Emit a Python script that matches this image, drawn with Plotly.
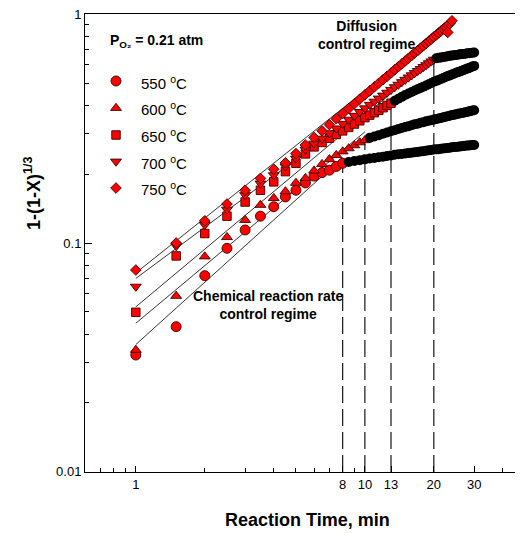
import math
import plotly.graph_objects as go

# ---------------- data ----------------
times = [1.0, 1.5, 2.0, 2.5, 3.0, 3.5, 4.0, 4.5, 5.0, 5.5, 6.0, 6.5, 7.0, 7.5, 8.0, 8.5,
         9.0, 9.5, 10.0, 10.5, 11.0, 11.5, 12.0, 12.5, 13.0, 13.5, 14.0, 14.5, 15.0, 15.5,
         16.0, 16.5, 17.0, 17.5, 18.0, 18.5, 19.0, 19.5, 20.0, 20.5, 21.0, 21.5, 22.0, 22.5,
         23.0, 23.5, 24.0, 24.5, 25.0, 25.5, 26.0, 26.5, 27.0, 27.5, 28.0, 28.5, 29.0, 29.5, 30.0]

temps = ["550", "600", "650", "700", "750"]
symbols = ["circle", "triangle-up", "square", "triangle-down", "diamond"]
transition_t = [8.0, 10.0, 13.0, 20.0, None]

v550 = [0.0324, 0.0431, 0.072, 0.0948, 0.114, 0.131, 0.144, 0.159, 0.170, 0.183, 0.196, 0.203,
        0.208, 0.216, 0.223, 0.226, 0.228, 0.230, 0.232, 0.234, 0.235, 0.237, 0.238, 0.240,
        0.241, 0.243, 0.244, 0.245, 0.246, 0.247, 0.248, 0.249, 0.250, 0.251, 0.252, 0.253,
        0.254, 0.255, 0.256, 0.2565, 0.257, 0.258, 0.259, 0.2595, 0.260, 0.261, 0.262, 0.2625,
        0.263, 0.2635, 0.264, 0.265, 0.2655, 0.266, 0.2665, 0.267, 0.2675, 0.268, 0.268]
v600 = [0.0341, 0.0587, 0.0873, 0.106, 0.126, 0.1466, 0.157, 0.168, 0.183, 0.192, 0.207, 0.221,
        0.232, 0.242, 0.251, 0.259, 0.267, 0.275, 0.281, 0.288, 0.292, 0.296, 0.300, 0.304,
        0.308, 0.311, 0.315, 0.318, 0.321, 0.324, 0.327, 0.330, 0.332, 0.335, 0.337, 0.340,
        0.342, 0.344, 0.346, 0.348, 0.350, 0.352, 0.354, 0.356, 0.358, 0.360, 0.362, 0.363,
        0.365, 0.367, 0.368, 0.370, 0.371, 0.373, 0.374, 0.376, 0.377, 0.379, 0.380]
v650 = [0.0498, 0.0878, 0.110, 0.131, 0.151, 0.170, 0.185, 0.205, 0.223, 0.245, 0.263, 0.275,
        0.287, 0.298, 0.309, 0.320, 0.331, 0.342, 0.353, 0.362, 0.371, 0.380, 0.390, 0.399,
        0.408, 0.418, 0.427, 0.435, 0.443, 0.450, 0.457, 0.464, 0.470, 0.476, 0.482, 0.488,
        0.494, 0.500, 0.506, 0.511, 0.516, 0.521, 0.526, 0.531, 0.536, 0.540, 0.545, 0.549,
        0.554, 0.558, 0.562, 0.566, 0.570, 0.574, 0.578, 0.582, 0.586, 0.590, 0.594]
v700 = [0.0645, 0.097, 0.120, 0.140, 0.162, 0.182, 0.198, 0.216, 0.234, 0.256, 0.272, 0.286,
        0.302, 0.317, 0.332, 0.346, 0.360, 0.374, 0.388, 0.402, 0.415, 0.428, 0.441, 0.454,
        0.467, 0.480, 0.492, 0.505, 0.517, 0.529, 0.541, 0.553, 0.565, 0.576, 0.588, 0.599,
        0.611, 0.622, 0.633, 0.641, 0.644, 0.647, 0.650, 0.652, 0.655, 0.657, 0.659, 0.661,
        0.663, 0.665, 0.667, 0.669, 0.670, 0.672, 0.674, 0.675, 0.677, 0.678, 0.680]
v750 = [0.0762, 0.100, 0.125, 0.148, 0.170, 0.1915, 0.210, 0.224, 0.246, 0.268, 0.289, 0.309,
        0.329, 0.349, 0.368, 0.387, 0.406, 0.425, 0.444, 0.462, 0.481, 0.499, 0.517, 0.535,
        0.553, 0.571, 0.589, 0.606, 0.624, 0.641, 0.659, 0.676, 0.693, 0.710, 0.727, 0.744,
        0.761, 0.778, 0.795, 0.811, 0.828, 0.844, 0.861, 0.877, 0.893, 0.910, 0.935]
t750_extra = [23.0]
v750_extra = [0.832]

series_values = [v550, v600, v650, v700, v750]

# linear (log-log) fits of the chemical-reaction regime
fit_t0 = [1.0, 1.0, 1.0, 1.0, 1.0]
fit_v0 = [0.036, 0.0446, 0.0526, 0.070, 0.074]
fit_t1 = [8.0, 10.0, 13.0, 20.0, 24.0]
fit_v1 = [0.236, 0.306, 0.45, 0.65, 0.93]

# regime boundaries (vertical dashed lines)
boundary_t = [8, 10, 13, 20]
boundary_top = [0.226, 0.283, 0.41, 0.64]

xtick_vals = [1, 8, 10, 13, 20, 30]
xtick_text = ["1", "8", "10", "13", "20", "30"]
xminor_vals = [0.7, 0.8, 0.9, 2, 3, 4, 5, 6, 7, 9, 40]
ytick_vals = [0.01, 0.1, 1]
ytick_text = ["0.01", "0.1", "1"]
yminor_vals = [0.02, 0.03, 0.04, 0.05, 0.06, 0.07, 0.08, 0.09,
               0.2, 0.3, 0.4, 0.5, 0.6, 0.7, 0.8, 0.9]

# ---------------- styling ----------------
OFF = 8                      # page body margin of the html page
W, H = 523 - OFF, 533 - OFF
REF_L, REF_T, REF_R, REF_B = 85, 14, 523, 472   # plot area in the reference (window px)
L, T = REF_L - OFF, REF_T - OFF
R = W - (REF_R - OFF)
B = H - (REF_B - OFF)
PW, PH = W - L - R, H - T - B
FONT = "Liberation Sans, Arial, sans-serif"
RED = "#FF0000"
EDGE = "#3a0000"
sizes = {"circle": 10, "triangle-up": 9.5, "square": 8.5, "triangle-down": 9.5, "diamond": 8.2}


def px(xp):
    return (xp - REF_L) / PW


def py(yp):
    return (REF_B - yp) / PH


fig = go.Figure()

# fit lines
for i in range(5):
    fig.add_trace(go.Scatter(x=[fit_t0[i], fit_t1[i]], y=[fit_v0[i], fit_v1[i]], mode="lines",
                             line=dict(color="black", width=0.8), showlegend=False,
                             hoverinfo="skip"))

# boundary lines
for bt, btop in zip(boundary_t, boundary_top):
    fig.add_trace(go.Scatter(x=[bt, bt], y=[0.01, btop], mode="lines",
                             line=dict(color="black", width=1.1, dash="17px,6px"),
                             showlegend=False, hoverinfo="skip"))

# data: red (chemical regime) and black (diffusion regime)
for i in range(5):
    vals = series_values[i]
    tt = times[:len(vals)]
    tr = transition_t[i]
    if tr is None:
        red_t, red_v = list(tt), list(vals)
        blk_t, blk_v = [], []
    else:
        red_t = [t for t in tt if t <= tr]
        red_v = [v for t, v in zip(tt, vals) if t <= tr]
        blk_t = [t for t in tt if t > tr]
        blk_v = [v for t, v in zip(tt, vals) if t > tr]
    if i == 4:
        red_t += t750_extra
        red_v += v750_extra
    fig.add_trace(go.Scatter(x=red_t, y=red_v, mode="markers", showlegend=False,
                             marker=dict(symbol=symbols[i], size=sizes[symbols[i]], color=RED,
                                         line=dict(color=EDGE, width=0.9))))
    if blk_t:
        fig.add_trace(go.Scatter(x=blk_t, y=blk_v, mode="markers", showlegend=False,
                                 marker=dict(symbol="circle", size=10, color="black",
                                             line=dict(width=0))))

# manual legend on a pixel-space overlay axis (reference window coordinates)
leg_x = [116, 116, 116, 116, 116]
leg_y = [81, 108, 135, 161.5, 188]
for i in range(5):
    fig.add_trace(go.Scatter(x=[leg_x[i]], y=[leg_y[i]], xaxis="x2", yaxis="y2", mode="markers",
                             showlegend=False, hoverinfo="skip",
                             marker=dict(symbol=symbols[i], size=sizes[symbols[i]], color=RED,
                                         line=dict(color=EDGE, width=0.9))))

ann = []
for i in range(5):
    ann.append(dict(x=px(139), y=py(leg_y[i] + 1), xref="paper", yref="paper", xanchor="left",
                    yanchor="middle", showarrow=False,
                    text=temps[i] + " <sup>o</sup>C", font=dict(family=FONT, size=15, color="black")))

ann.append(dict(x=px(108), y=py(41), xref="paper", yref="paper", xanchor="left", yanchor="middle",
                showarrow=False, text="<b>P<sub>O₂</sub> = 0.21 atm</b>",
                font=dict(family=FONT, size=14, color="black")))
ann.append(dict(x=px(366), y=py(35), xref="paper", yref="paper", xanchor="center",
                yanchor="middle", showarrow=False, align="center",
                text="<b>Diffusion<br>control regime</b>",
                font=dict(family=FONT, size=14, color="black")))
ann.append(dict(x=px(268), y=py(305), xref="paper", yref="paper", xanchor="center",
                yanchor="middle", showarrow=False, align="center",
                text="<b>Chemical reaction rate<br>control regime</b>",
                font=dict(family=FONT, size=14, color="black")))
ann.append(dict(x=px(307), y=py(520), xref="paper", yref="paper", xanchor="center",
                yanchor="middle", showarrow=False, text="<b>Reaction Time, min</b>",
                font=dict(family=FONT, size=18, color="black")))
ann.append(dict(x=px(33), y=py(193), xref="paper", yref="paper", xanchor="center",
                yanchor="middle", showarrow=False, textangle=-90,
                text="<b>1-(1-X)<sup>1/3</sup></b>",
                font=dict(family=FONT, size=18, color="black")))

fig.update_layout(
    width=W, height=H,
    margin=dict(l=L, r=R, t=T, b=B, pad=0),
    paper_bgcolor="white", plot_bgcolor="white",
    showlegend=False,
    annotations=ann,
    xaxis=dict(type="log", range=[math.log10(0.6), math.log10(49)],
               showgrid=False, zeroline=False, showline=True, linecolor="black", linewidth=1,
               mirror=True, ticks="inside", ticklen=6, tickcolor="black", tickwidth=1,
               tickmode="array", tickvals=xtick_vals, ticktext=xtick_text,
               tickfont=dict(family=FONT, size=13, color="black"),
               minor=dict(ticks="inside", ticklen=4, tickcolor="black", tickwidth=1,
                          tickmode="array", tickvals=xminor_vals, showgrid=False)),
    yaxis=dict(type="log", range=[-2.0005, 0.0005], ticklabeloverflow="allow",
               showgrid=False, zeroline=False, showline=True, linecolor="black", linewidth=1,
               mirror=False, ticks="inside", ticklen=7, tickcolor="black", tickwidth=1,
               tickmode="array", tickvals=ytick_vals, ticktext=ytick_text,
               tickfont=dict(family=FONT, size=13, color="black"),
               minor=dict(ticks="inside", ticklen=4, tickcolor="black", tickwidth=1,
                          tickmode="array", tickvals=yminor_vals, showgrid=False)),
    xaxis2=dict(overlaying="x", range=[REF_L, REF_R], visible=False, fixedrange=True),
    yaxis2=dict(overlaying="y", range=[REF_B, REF_T], visible=False, fixedrange=True),
)

fig.write_html("out.html")
